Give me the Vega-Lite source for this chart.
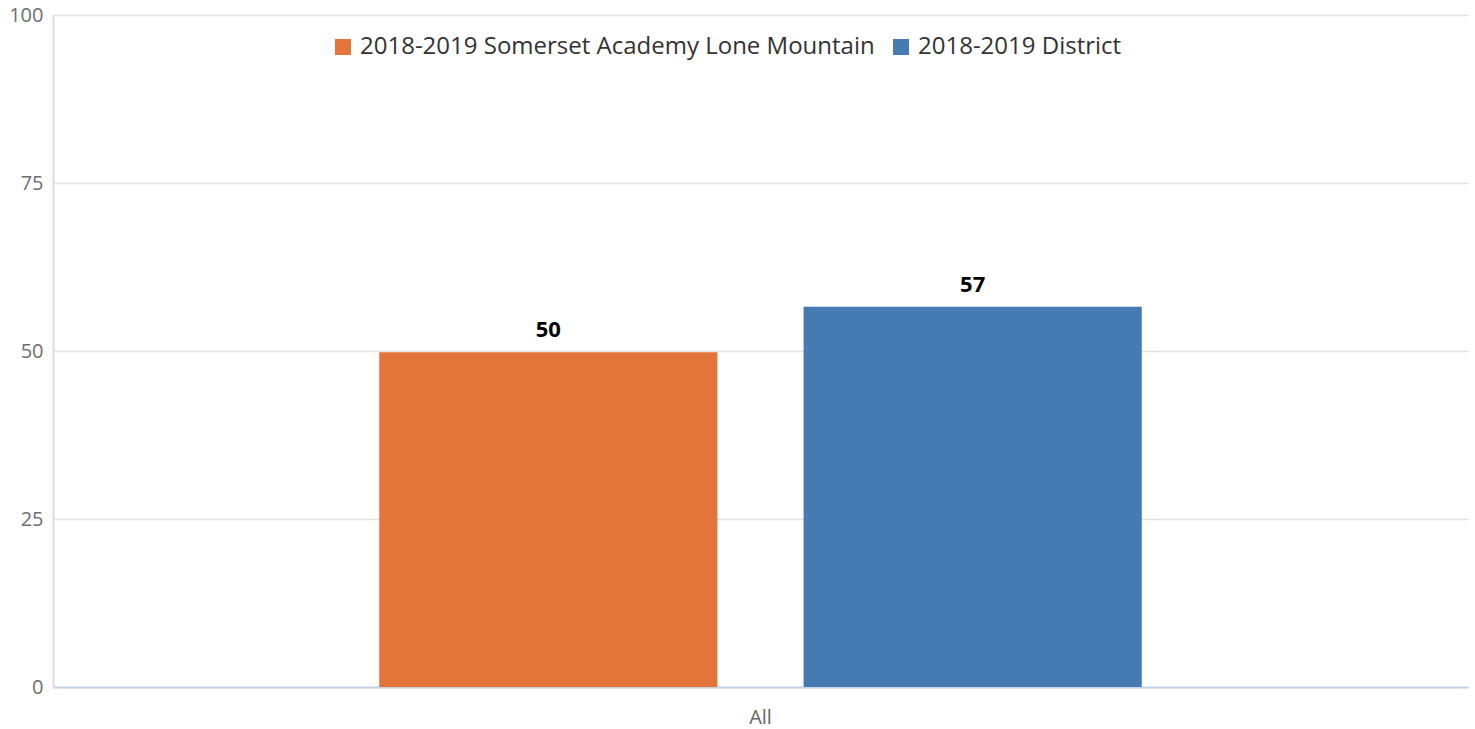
{
  "$schema": "https://vega.github.io/schema/vega-lite/v6.json",
  "autosize": "none",
  "width": 1415,
  "height": 672,
  "padding": {"left": 53, "top": 15, "right": 7, "bottom": 42},
  "background": "white",
  "config": {
    "font": "Open Sans",
    "view": {"stroke": null}
  },
  "data": {
    "values": [
      {"group": "All", "series": "2018-2019 Somerset Academy Lone Mountain", "value": 49.8},
      {"group": "All", "series": "2018-2019 District", "value": 56.6}
    ]
  },
  "encoding": {
    "x": {
      "field": "group",
      "type": "nominal",
      "scale": {"paddingInner": 0, "paddingOuter": 0.4278},
      "axis": {
        "title": null,
        "labelAngle": 0,
        "labelFontSize": 20,
        "labelColor": "#666666",
        "labelPadding": 20,
        "ticks": false,
        "domainColor": "#c5d3e6",
        "domainWidth": 2
      }
    },
    "xOffset": {
      "field": "series",
      "type": "nominal",
      "sort": ["2018-2019 Somerset Academy Lone Mountain", "2018-2019 District"],
      "scale": {"paddingInner": 0.203, "paddingOuter": 0}
    },
    "y": {
      "field": "value",
      "type": "quantitative",
      "scale": {"domain": [0, 100]},
      "axis": {
        "title": null,
        "values": [0, 25, 50, 75, 100],
        "labelFontSize": 20,
        "labelColor": "#6e6e6e",
        "labelPadding": 10,
        "ticks": false,
        "domainColor": "#dddddd",
        "domainWidth": 2,
        "gridColor": "#e2e2e2",
        "gridWidth": 1.5
      }
    }
  },
  "layer": [
    {
      "mark": {"type": "bar"},
      "encoding": {
        "color": {
          "field": "series",
          "type": "nominal",
          "sort": ["2018-2019 Somerset Academy Lone Mountain", "2018-2019 District"],
          "scale": {
            "domain": ["2018-2019 Somerset Academy Lone Mountain", "2018-2019 District"],
            "range": ["#e4753a", "#467ab2"]
          },
          "legend": {
            "title": null,
            "orient": "none",
            "legendX": 278,
            "legendY": 20,
            "direction": "horizontal",
            "symbolType": "square",
            "symbolSize": 256,
            "symbolStrokeWidth": 0,
            "labelFontSize": 24,
            "labelColor": "#333333",
            "labelOffset": 5,
            "columnPadding": 14,
            "labelLimit": 700
          }
        }
      }
    },
    {
      "mark": {"type": "text", "baseline": "bottom", "dy": -10, "fontSize": 22, "fontWeight": "bold", "color": "#000000"},
      "encoding": {
        "text": {"field": "value", "type": "quantitative", "format": ".0f"}
      }
    }
  ]
}
